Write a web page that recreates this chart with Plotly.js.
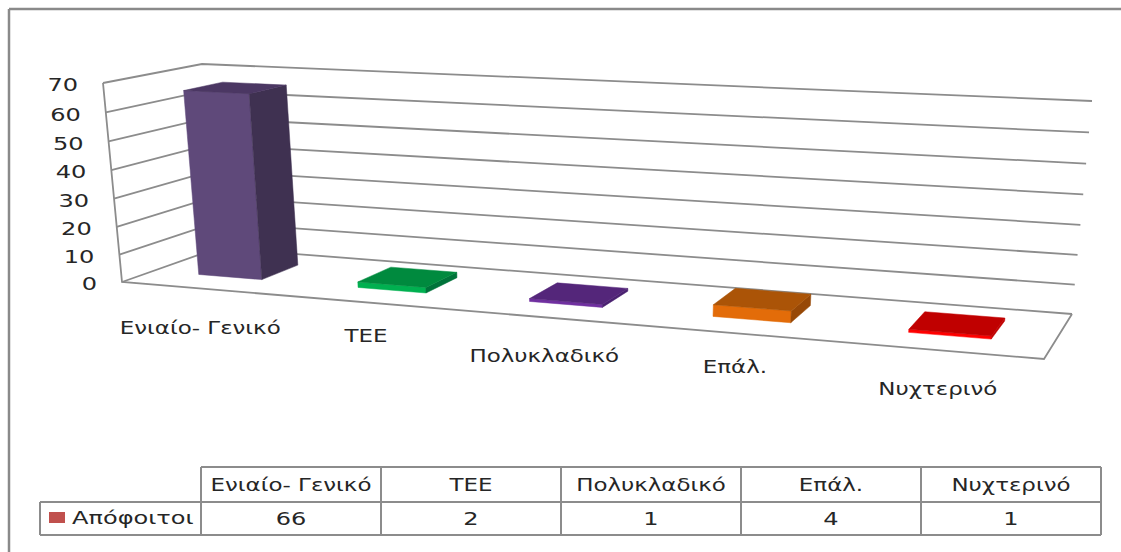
<!DOCTYPE html>
<html><head><meta charset="utf-8">
<script src="https://cdn.plot.ly/plotly-3.0.1.min.js"></script>
<style>html,body{margin:0;padding:0;background:#fff;overflow:hidden}#c{width:1121px;height:552px}</style>
</head><body><div id="c"></div>
<script>
// ---- data ----
const categories = ['Ενιαίο- Γενικό','TEE','Πολυκλαδικό','Επάλ.','Νυχτερινό'];
const graduates = [66,2,1,4,1];
const seriesName = 'Απόφοιτοι';
const yTicks = [0,10,20,30,40,50,60,70];

// ---- styles ----
const frontColors = ['#5f497a','#00b050','#7030a0','#e36c09','#ff0000'];
const topColors   = ['#4b3763','#008a3e','#54267a','#ab5407','#c00000'];
const sideColors  = ['#3f3151','#00733a','#4a2170','#974806','#c00000'];
const FONT = 'DejaVu Sans';
const TEXT = '#262626', LINE = '#8c8c8c', TABLE = '#8c8c8c';

// ---- 3D box projection onto the page's pixel scale ----
const yMax = 70, n = categories.length;
const lerp = (a,b,f) => a+(b-a)*f;
const floorC = {fl:[122,282], fr:[1044,359], bl:[218,248], br:[1072,314]};
const topC   = {fl:[103,83],  fr:[1065,131], bl:[202,64],  br:[1092,101]};
const warpX = t => 0.832*t + 0.168*t*t;
const warpY = q => 0.96*q + 0.04*q*q;
function plane(c,s,d,i){ return lerp(lerp(c.fl[i],c.bl[i],d), lerp(c.fr[i],c.br[i],d), s); }
function P(u,v,d){
  const s = warpX(u/n), q = warpY(v/yMax);
  return [lerp(plane(floorC,s,d,0),plane(topC,s,d,0),q),
          lerp(plane(floorC,s,d,1),plane(topC,s,d,1),q)];
}
function poly(pts,color){
  return {type:'scatter',mode:'lines',x:pts.map(p=>p[0]).concat(pts[0][0]),y:pts.map(p=>p[1]).concat(pts[0][1]),
    fill:'toself',fillcolor:color,line:{color:color,width:0.5},hoverinfo:'skip',showlegend:false};
}
const traces = [];

// walls: gridlines from tick values
yTicks.forEach(v=>{
  const a=P(0,v,0), b=P(0,v,1), c=P(n,v,1);
  traces.push({type:'scatter',mode:'lines',x:[a[0],b[0],c[0]],y:[a[1],b[1],c[1]],
    line:{color:LINE,width:1.8},hoverinfo:'skip',showlegend:false});
});
// left wall edge, and the floor outline
(function(){
  const top=P(0,yMax,0), bot=P(0,0,0), br=P(n,0,1), fr=P(n,0,0);
  traces.push({type:'scatter',mode:'lines',x:[top[0],bot[0],fr[0],br[0]],y:[top[1],bot[1],fr[1],br[1]],
    line:{color:LINE,width:1.8},hoverinfo:'skip',showlegend:false});
})();

// bars
const barHalf = 0.2025, dFront = 0.33, dBack = 0.74;
graduates.forEach((val,i)=>{
  const a=i+0.5-barHalf, b=i+0.5+barHalf;
  const f0=P(a,0,dFront), f1=P(b,0,dFront), b1=P(b,0,dBack);
  const tf0=P(a,val,dFront), tf1=P(b,val,dFront), tb1=P(b,val,dBack), tb0=P(a,val,dBack);
  traces.push(poly([f0,f1,tf1,tf0],frontColors[i]));
  traces.push(poly([f1,b1,tb1,tf1],sideColors[i]));
  traces.push(poly([tf0,tf1,tb1,tb0],topColors[i]));
});

// y-axis labels
traces.push({type:'scatter',mode:'text',
  x:yTicks.map(v=>P(0,v,0)[0]-25), y:yTicks.map(v=>P(0,v,0)[1]+3.5),
  text:yTicks.map(String),textposition:'middle left',
  textfont:{family:FONT,size:18.5,color:TEXT},hoverinfo:'skip',showlegend:false});

// category labels under the floor's front edge
const labelDrop = [41,35,40,35,40];
traces.push({type:'scatter',mode:'text',
  x:categories.map((c,i)=>P(i+0.5,0,0)[0]), y:categories.map((c,i)=>P(i+0.5,0,0)[1]+labelDrop[i]),
  text:categories,textposition:'middle center',
  textfont:{family:FONT,size:18.5,color:TEXT},hoverinfo:'skip',showlegend:false});

// data table
const colX=[201,381,561,741,921,1101], rowY=[467,502,535], boxX=40;
const shapes=[];
const seg=(x0,y0,x1,y1,w,c)=>shapes.push({type:'line',xref:'x',yref:'y',x0,y0,x1,y1,line:{color:c,width:w}});
seg(9,9,1121,9,2.5,'#8a8a8a'); seg(9,9,9,552,2.5,'#8a8a8a');
seg(colX[0],rowY[0],colX[5],rowY[0],2,TABLE);
seg(boxX,rowY[1],colX[5],rowY[1],2,TABLE);
seg(boxX,rowY[2],colX[5],rowY[2],2,TABLE);
seg(boxX,rowY[1],boxX,rowY[2],2,TABLE);
colX.forEach(x=>seg(x,rowY[0],x,rowY[2],2,TABLE));
shapes.push({type:'rect',xref:'x',yref:'y',x0:49,x1:65,y0:512,y1:523,fillcolor:'#c0504d',line:{width:0}});

const mid=i=>(colX[i]+colX[i+1])/2;
traces.push({type:'scatter',mode:'text',
  x:categories.map((c,i)=>mid(i)), y:categories.map(()=>(rowY[0]+rowY[1])/2+2),
  text:categories,textposition:'middle center',
  textfont:{family:FONT,size:18.5,color:TEXT},hoverinfo:'skip',showlegend:false});
traces.push({type:'scatter',mode:'text',
  x:graduates.map((c,i)=>mid(i)), y:graduates.map(()=>(rowY[1]+rowY[2])/2+2),
  text:graduates.map(String),textposition:'middle center',
  textfont:{family:FONT,size:18.5,color:TEXT},hoverinfo:'skip',showlegend:false});
traces.push({type:'scatter',mode:'text',x:[72],y:[519.5],text:[seriesName],textposition:'middle right',
  textfont:{family:FONT,size:18.5,color:TEXT},hoverinfo:'skip',showlegend:false});

Plotly.newPlot('c',traces,{
  width:1121,height:552,margin:{l:0,r:0,t:0,b:0},
  paper_bgcolor:'#fff',plot_bgcolor:'#fff',showlegend:false,
  xaxis:{range:[0,1121],visible:false,fixedrange:true},
  yaxis:{range:[552,0],visible:false,fixedrange:true},
  shapes:shapes
},{displayModeBar:false,staticPlot:true}).then(gd=>{
  // the reference's lettering is stretched horizontally
  gd.querySelectorAll('.textpoint text').forEach(t=>{
    const s=t.textContent;
    const f=/^\d+$/.test(s)||s===seriesName?1.3:1.24;
    t.setAttribute('textLength',(t.getComputedTextLength()*f).toFixed(1));
    t.setAttribute('lengthAdjust','spacingAndGlyphs');
  });
});
</script></body></html>
